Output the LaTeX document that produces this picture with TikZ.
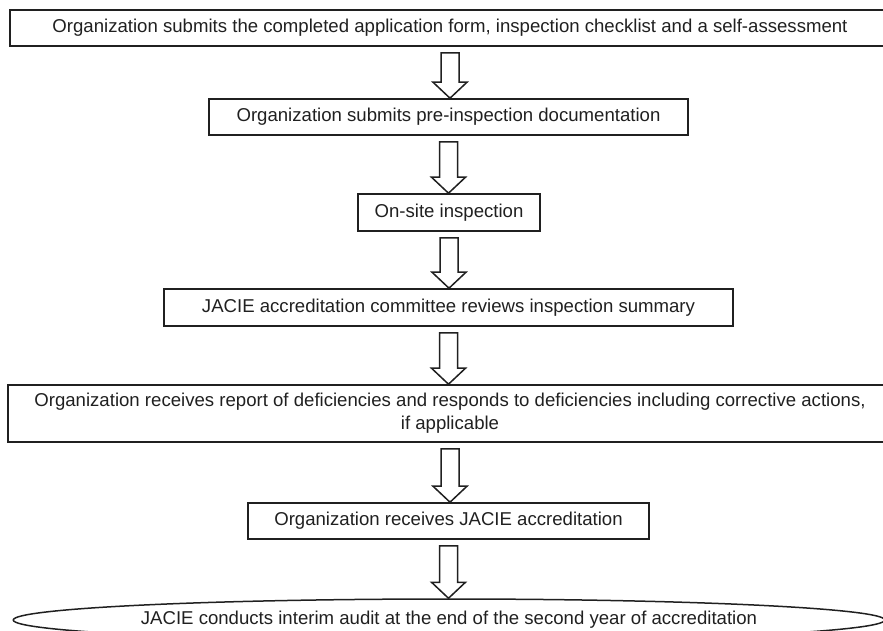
\documentclass[tikz,border=0pt]{standalone}
\usepackage{fontspec}
\setmainfont{Liberation Sans}
\usetikzlibrary{shapes.geometric,calc}
\definecolor{ink}{HTML}{202020}
\tikzset{
  stepbox/.style={draw=ink, line width=1.6pt, rectangle, inner sep=0pt, align=center,
    text=ink, font=\fontsize{18.6}{23}\selectfont},
  endoval/.style={draw=ink, line width=1.5pt, ellipse, inner sep=0pt, align=center,
    text=ink, font=\fontsize{18.6}{22}\selectfont},
  blockarrow/.style={draw=ink, line width=1.5pt, fill=white, line join=miter}
}
\newcommand\blockarr[2]{%
  \draw[blockarrow] let \p1=(#1.south), \p2=(#2.north) in
    (\x1-9pt,\y1-6pt) -- (\x1+9pt,\y1-6pt) -- (\x1+9pt,\y2+16pt) -- (\x1+17pt,\y2+16pt)
    -- (\x1,\y2) -- (\x1-17pt,\y2+16pt) -- (\x1-9pt,\y2+16pt) -- cycle;}
\begin{document}
\begin{tikzpicture}[x=1pt,y=-1pt]
\useasboundingbox (0,0) rectangle (883,631);
\clip (0,0) rectangle (883,631);
\node[stepbox, minimum width=880pt, minimum height=36pt] (b1) at (450,28)
  {Organization submits the completed application form, inspection checklist and a self-assessment};
\node[stepbox, minimum width=479pt, minimum height=36pt] (b2) at (448.5,117)
  {Organization submits pre-inspection documentation};
\node[stepbox, minimum width=182pt, minimum height=37pt] (b3) at (449,212.5)
  {On-site inspection};
\node[stepbox, minimum width=569pt, minimum height=37pt] (b4) at (448.5,307.5)
  {JACIE accreditation committee reviews inspection summary};
\node[stepbox, minimum width=884pt, minimum height=57pt] (b5) at (450,413.5)
  {Organization receives report of deficiencies and responds to deficiencies including corrective actions,\\ if applicable};
\node[stepbox, minimum width=401pt, minimum height=36pt] (b6) at (448.5,521)
  {Organization receives JACIE accreditation};
\node[endoval, minimum width=838pt, minimum height=42pt] (b7) at (449,620)
  {JACIE conducts interim audit at the end of the second year of accreditation};
\blockarr{b1}{b2}
\blockarr{b2}{b3}
\blockarr{b3}{b4}
\blockarr{b4}{b5}
\blockarr{b5}{b6}
\blockarr{b6}{b7}
\end{tikzpicture}
\end{document}
